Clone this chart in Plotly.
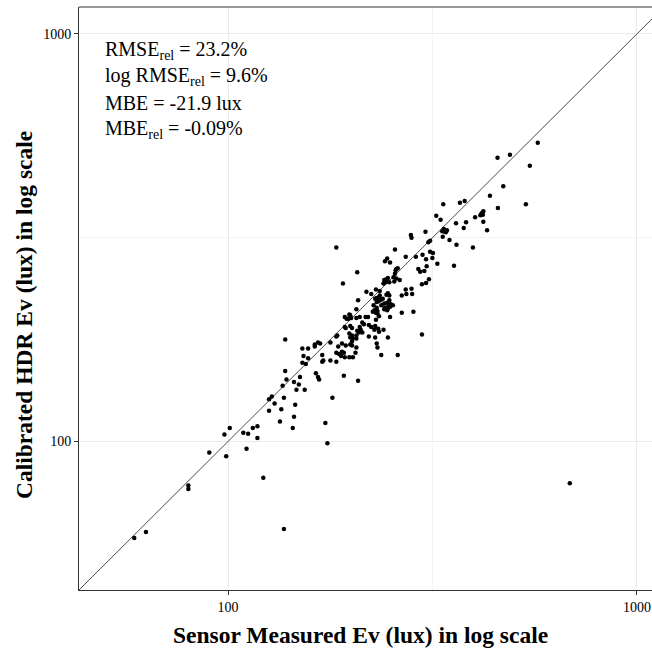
import math
import plotly.graph_objects as go

# Sensor-measured illuminance (lux) and calibrated HDR illuminance (lux)
sensor_lux = [
    59, 63, 80, 80, 90, 98, 101, 99, 109, 112, 111, 115, 118, 118, 122, 137,
    126, 130, 135, 134, 145, 144, 146, 173, 175, 685, 126, 128, 137, 138, 138,
    139, 136, 145, 147, 149, 154, 150, 152, 157, 153, 157, 152, 155, 163, 166,
    168, 164, 166, 167, 170, 171, 170, 178, 178, 184, 184, 180, 192, 186, 190,
    190, 189, 194, 198, 199, 191, 205, 208, 206, 209, 201, 206, 195, 199, 193,
    194, 184, 185, 187, 192, 184, 207, 208, 206, 193, 198, 197, 200, 199, 201,
    210, 217, 220, 210, 211, 213, 213, 215, 198, 201, 199, 202, 206, 218, 224,
    230, 229, 231, 234, 231, 233, 235, 235, 227, 231, 232, 230, 234, 228, 226,
    236, 239, 241, 237, 243, 241, 244, 246, 240, 248, 242, 249, 256, 258, 257,
    256, 260, 254, 258, 263, 255, 246, 248, 244, 248, 245, 250, 253, 247, 246,
    245, 241, 249, 242, 249, 266, 272, 281, 282, 273, 266, 284, 298, 272, 280,
    281, 288, 299, 305, 306, 302, 292, 295, 298, 305, 310, 316, 317, 312, 309,
    312, 304, 325, 323, 331, 336, 337, 334, 339, 343, 341, 335, 348, 357, 362,
    361, 369, 379, 377, 382, 397, 402, 414, 417, 421, 420, 421, 430, 437, 457,
    471, 572, 547, 489, 456, 535, 245, 237, 260, 246, 234, 233, 229, 231, 232,
    240, 221, 224, 228, 229, 221, 207, 230, 232, 163, 193, 202, 206, 201,
]
hdr_lux = [
    58, 60, 78, 76.5, 94, 104, 108, 92, 105, 104.5, 96, 108, 109, 102, 81.5, 61,
    119, 124, 120, 112, 115, 108, 123, 111, 99, 79, 127, 129, 128, 178, 149,
    142, 137, 140, 134, 138, 134, 144, 169, 169, 162, 160, 156, 155, 171, 175,
    174, 147, 144, 142, 157, 158, 163, 175, 158, 165, 157, 128, 145, 171, 174,
    166, 162, 172, 161, 173, 244, 165, 141, 182, 185, 176, 201, 200, 204, 191,
    190, 181, 182, 164, 165, 299, 260, 222, 211, 202, 205, 200, 201, 192, 190,
    202, 202, 202, 191, 188, 185, 196, 194, 184, 182, 180, 179, 179, 233, 230,
    236, 224, 225, 226, 220, 221, 228, 234, 216, 213, 209, 207, 203, 210, 208,
    222, 224, 218, 216, 246, 249, 250, 252, 244, 246, 277, 275, 296, 265, 263,
    258, 266, 253, 251, 249, 247, 231, 228, 229, 222, 219, 217, 216, 216, 212,
    210, 211, 214, 213, 202, 228, 236, 237, 230, 230, 207, 208, 183, 284, 321,
    316, 284, 287, 280, 269, 262, 265, 261, 243, 245, 250, 282, 290, 292, 308,
    311, 327, 273, 358, 350, 382, 332, 328, 327, 330, 326, 318, 312, 270, 304,
    343, 385, 389, 334, 345, 299, 355, 359, 363, 367, 360, 346, 330, 401, 374,
    423, 541, 475, 505, 497, 382, 281, 163, 163, 180, 186, 189, 180, 174, 170,
    188, 193, 191, 188, 192, 181, 187, 199, 206, 173, 161, 161, 170, 172,
]

stat_lines = [
    "RMSE<sub>rel</sub> = 23.2%",
    "log RMSE<sub>rel</sub> = 9.6%",
    "MBE = -21.9 lux",
    "MBE<sub>rel</sub> = -0.09%",
]

x_title = "Sensor Measured Ev (lux) in log scale"
y_title = "Calibrated HDR Ev (lux) in log scale"
tick_values = [100, 1000]
tick_labels = ["100", "1000"]

x_range_log = [1.6357, 3.0367]
y_range_log = [1.6357, 3.066]

SERIF = "Liberation Serif, Times New Roman, serif"
GRID = "#ebebeb"
AXIS = "#333333"

fig = go.Figure()

# identity (1:1) line across the axis range
lo = 10 ** min(x_range_log[0], y_range_log[0])
hi = 10 ** max(x_range_log[1], y_range_log[1])
fig.add_trace(go.Scatter(
    x=[lo, hi], y=[lo, hi], mode="lines",
    line=dict(color="#4d4d4d", width=1), hoverinfo="skip", showlegend=False,
))

fig.add_trace(go.Scatter(
    x=sensor_lux, y=hdr_lux, mode="markers",
    marker=dict(color="black", size=4.5, line=dict(width=0)),
    showlegend=False,
))

axis_common = dict(
    type="log",
    tickvals=tick_values,
    ticktext=tick_labels,
    ticks="outside",
    ticklen=4,
    tickwidth=1,
    tickcolor=AXIS,
    tickfont=dict(family=SERIF, size=14, color="black"),
    showgrid=True,
    gridcolor=GRID,
    gridwidth=1,
    zeroline=False,
    showline=True,
    linecolor=AXIS,
    linewidth=1,
    automargin=False,
    minor=dict(tickvals=[10 ** 2.5], showgrid=True, gridcolor="#f4f4f4",
               gridwidth=1, ticks=""),
)

fig.update_xaxes(range=x_range_log, **axis_common)
fig.update_yaxes(range=y_range_log, **axis_common)

# top panel border
fig.add_shape(type="line", xref="paper", yref="paper", x0=0, x1=1, y0=1, y1=1,
              line=dict(color=AXIS, width=1))

# axis titles as annotations for exact placement
title_font = dict(family=SERIF, size=23.5, color="black")
fig.add_annotation(x=0.491, y=-0.0772, xref="paper", yref="paper",
                   text=f"<b>{x_title}</b>", showarrow=False,
                   xanchor="center", yanchor="middle", font=title_font)
fig.add_annotation(x=-0.096, y=0.4717, xref="paper", yref="paper",
                   text=f"<b>{y_title}</b>", showarrow=False, textangle=-90,
                   xanchor="center", yanchor="middle", font=title_font)

line_y = [0.926, 0.8805, 0.835, 0.7895]
for txt, yy in zip(stat_lines, line_y):
    fig.add_annotation(
        x=0.042, y=yy, xref="paper", yref="paper", text=txt, showarrow=False,
        xanchor="left", yanchor="middle",
        font=dict(family=SERIF, size=20, color="black"),
    )

fig.update_layout(
    width=652, height=649,
    margin=dict(l=79, r=0, t=7, b=59, pad=0),
    paper_bgcolor="white",
    plot_bgcolor="white",
    showlegend=False,
)

# remove the default 8px page margin so the figure fills the window exactly
fig.write_html("out.html", config={"displayModeBar": False},
               post_script="document.body.style.margin='0';")
